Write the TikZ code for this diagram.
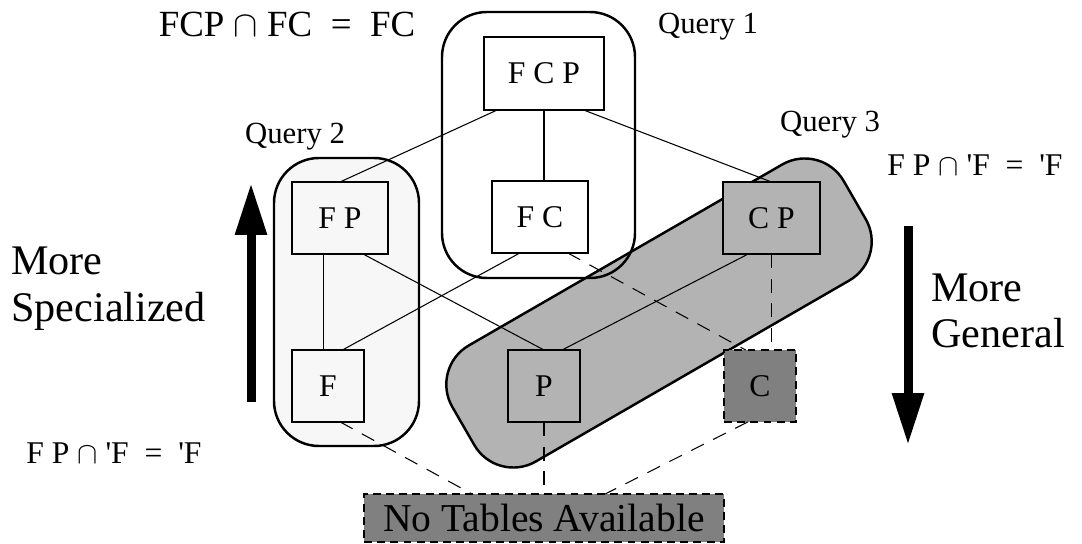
\documentclass[tikz,border=0pt]{standalone}
\usepackage{fontspec}
\setmainfont{Liberation Serif}
\usetikzlibrary{calc,arrows.meta}
\definecolor{qgray}{HTML}{B3B3B3}
\definecolor{dgray}{HTML}{808080}
\definecolor{lgray}{HTML}{F7F7F7}
\begin{document}
\begin{tikzpicture}[x=0.02cm,y=-0.02cm,
  tbl/.style={draw, line width=1.1pt, inner sep=0pt, outer sep=0pt, fill=white,
    font=\fontsize{18}{20}\selectfont, minimum height=1.44cm},
  grp/.style={draw, line width=1.4pt, rounded corners=0.9cm},
  edge/.style={line width=0.6pt},
  dedge/.style={line width=0.6pt, dash pattern=on 8pt off 6pt},
  dbox/.style={dash pattern=on 4.5pt off 3pt},
  qlabel/.style={font=\fontsize{17.5}{20}\selectfont, inner sep=0pt},
  eqlabel/.style={font=\fontsize{18}{20}\selectfont, inner sep=0pt},
  biglabel/.style={font=\fontsize{24}{26.6}\selectfont, align=left, inner sep=0pt},
  bigarrow/.style={line width=0.18cm, -{Triangle[length=1.04cm, width=0.6cm]}}
]
\useasboundingbox (0,0) rectangle (1082,544);

% groups
\draw[grp, fill=lgray] (274,158) rectangle (419,446);
\node[draw, line width=1.4pt, rotate=30, minimum width=9.04cm, minimum height=2.68cm,
  rounded corners=0.9cm, fill=qgray, inner sep=0pt] (q3) at (659,313) {};
\draw[grp] (442,12) rectangle (635,278);

% tables
\node[tbl, minimum width=2.4cm, minimum height=1.46cm] (FCP) at (544,73.5) {F C P};
\node[tbl, minimum width=1.92cm] (FC) at (540,217) {F C};
\node[tbl, minimum width=1.94cm, fill=qgray] (CP) at (771.5,218) {C P};
\node[tbl, minimum width=1.92cm, fill=lgray] (FP) at (340,218) {F P};
\node[tbl, minimum width=1.44cm, fill=lgray] (F) at (328,386) {F};
\node[tbl, minimum width=1.44cm, fill=qgray] (P) at (544,386) {P};
\node[tbl, dbox, minimum width=1.44cm, fill=dgray] (C) at (760,386) {C};
\node[tbl, dbox, minimum width=7.2cm, minimum height=0.96cm, fill=dgray,
  font=\fontsize{22.5}{24}\selectfont] (NT) at (544,518) {No Tables Available};

% solid edges
\draw[edge] ($(FCP.south west)!0.11!(FCP.south east)$) -- (FP.north);
\draw[edge] (FCP.south) -- (FCP.south |- FC.north);
\draw[edge] ($(FCP.south west)!0.83!(FCP.south east)$) -- (CP.north);
\draw[edge] ($(FP.south west)!0.33!(FP.south east)$) coordinate (fpa) -- (fpa |- F.north);
\draw[edge] ($(FP.south west)!0.74!(FP.south east)$) -- (P.north);
\draw[edge] ($(FC.south west)!0.29!(FC.south east)$) -- ($(F.north west)!0.7!(F.north east)$);
\draw[edge] ($(CP.south west)!0.26!(CP.south east)$) -- ($(P.north west)!0.75!(P.north east)$);

% dashed edges
\draw[dedge] ($(FC.south west)!0.79!(FC.south east)$) -- ($(C.north west)!0.3!(C.north east)$);
\draw[dedge] (CP.south) -- (CP.south |- C.north);
\draw[dedge] ($(F.south west)!0.67!(F.south east)$) -- ($(NT.north west)!0.3!(NT.north east)$);
\draw[dedge] (P.south) -- (NT.north);
\draw[dedge] ($(C.south west)!0.33!(C.south east)$) -- ($(NT.north west)!0.67!(NT.north east)$);

% labels
\node[font=\fontsize{21}{24}\selectfont, inner sep=0pt] (eq1) at (287,24) {FCP $\cap$ FC \ = \ FC};
\node[qlabel] (ql1) at (708,27) {Query 1};
\node[qlabel] (ql2) at (295,137) {Query 2};
\node[qlabel] (ql3) at (830,125) {Query 3};
\node[eqlabel] (eq2) at (975,165) {F P $\cap$ \textquotesingle F \ = \ \textquotesingle F};
\node[eqlabel] (eq3) at (114,453) {F P $\cap$ \textquotesingle F \ = \ \textquotesingle F};
\node[biglabel, anchor=west] (spec) at (11,289) {More\\Specialized};
\node[biglabel, anchor=west] (gen) at (931,311) {More\\General};

% arrows
\coordinate (ua) at (251,402);
\coordinate (ub) at (251,183);
\draw[bigarrow] (ua) -- (ub);
\coordinate (da) at (908,226);
\coordinate (db) at (908,445);
\draw[bigarrow] (da) -- (db);
\end{tikzpicture}
\end{document}
